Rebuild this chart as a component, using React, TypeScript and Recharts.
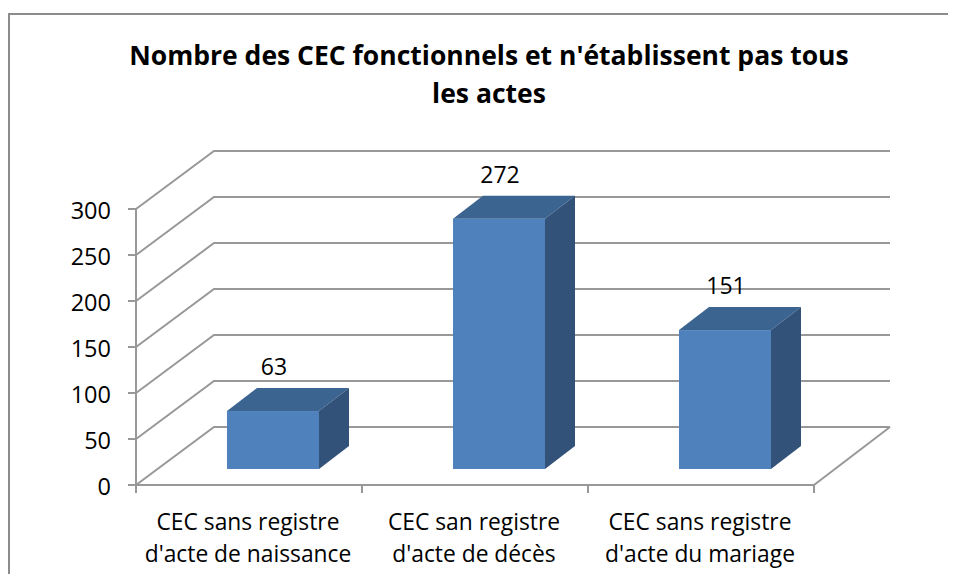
import { BarChart, Bar, XAxis, YAxis, CartesianGrid, LabelList } from 'recharts';

const categories = [
  "CEC sans registre\nd'acte de naissance",
  "CEC san registre\nd'acte de décès",
  "CEC sans registre\nd'acte du mariage",
];
const values = [63, 272, 151];
const yTicks = [0, 50, 100, 150, 200, 250, 300];
const titleLines = ["Nombre des CEC fonctionnels et n'établissent pas tous", "les actes"];

const data = categories.map((name, i) => ({ name, value: values[i] }));

const FONT = '"Open Sans", sans-serif';
const GRID = '#989898';
const BAND = 226;
const DEPTH_X = 78;
const DEPTH_Y = 58;

function Box(props: any) {
  const { x, y, width, height } = props;
  const fx = x + 24;
  const fy = y - 16;
  const dx = 30;
  const dy = 23;
  return (
    <g>
      <rect x={fx} y={fy} width={width} height={height} fill="#4F81BD" />
      <polygon
        points={`${fx},${fy} ${fx + dx},${fy - dy} ${fx + width + dx},${fy - dy} ${fx + width},${fy}`}
        fill="#3C6491"
      />
      <polygon
        points={`${fx + width},${fy} ${fx + width + dx},${fy - dy} ${fx + width + dx},${fy + height - dy} ${fx + width},${fy + height}`}
        fill="#32527A"
      />
    </g>
  );
}

function WallLine(props: any) {
  const { x1, x2, y1, index } = props;
  return (
    <g key={index}>
      <polyline
        points={`${x1},${y1} ${x1 + DEPTH_X},${y1 - DEPTH_Y} ${x2 + 76},${y1 - DEPTH_Y}`}
        fill="none"
        stroke={GRID}
        strokeWidth={2}
      />
      {y1 > 480 && (
        <line x1={x2} y1={y1} x2={x2 + 76} y2={y1 - DEPTH_Y} stroke={GRID} strokeWidth={2} />
      )}
    </g>
  );
}

function CategoryTick(props: any) {
  const { x, y, payload, index } = props;
  const lines = String(payload.value).split('\n');
  return (
    <g>
      <line x1={x + BAND / 2} y1={y - 8} x2={x + BAND / 2} y2={y} stroke={GRID} strokeWidth={2} />
      {index === 0 && (
        <line x1={x - BAND / 2} y1={y - 8} x2={x - BAND / 2} y2={y} stroke={GRID} strokeWidth={2} />
      )}
      {lines.map((line, i) => (
        <text key={i} x={x - 1} y={y + 37 + i * 32} textAnchor="middle" fontFamily={FONT} fontSize={22.8} fill="#000">
          {line}
        </text>
      ))}
    </g>
  );
}

export default function App() {
  return (
    <div style={{ position: 'relative', width: 956, height: 582, margin: -8, overflow: 'hidden', background: '#fff' }}>
      <div
        style={{
          position: 'absolute',
          left: 8,
          top: 13,
          width: 948,
          height: 569,
          borderTop: '2px solid #8c8c8c',
          borderLeft: '2px solid #8c8c8c',
          boxSizing: 'border-box',
        }}
      />
      <div
        style={{
          position: 'absolute',
          left: 0,
          top: 36,
          width: 978,
          textAlign: 'center',
          fontFamily: FONT,
          fontWeight: 700,
          fontSize: 26.5,
          lineHeight: '38px',
          color: '#000',
        }}
      >
        {titleLines.map((line) => (
          <div key={line}>{line}</div>
        ))}
      </div>
      <div style={{ position: 'absolute', left: 0, top: 0 }}>
        <BarChart
          width={956}
          height={582}
          data={data}
          barCategoryGap={67}
          margin={{ top: 209, right: 142, left: 76, bottom: 37 }}
        >
          <CartesianGrid vertical={false} horizontal={(p: any) => <WallLine {...p} />} />
          <XAxis
            dataKey="name"
            interval={0}
            height={60}
            tick={<CategoryTick />}
            tickLine={false}
            axisLine={{ stroke: GRID, strokeWidth: 2 }}
          />
          <YAxis
            width={60}
            domain={[0, 300]}
            ticks={yTicks}
            tickSize={8}
            tickMargin={17}
            tick={{ fontFamily: FONT, fontSize: 23.5, fill: '#000', dy: 2 }}
            tickLine={{ stroke: GRID, strokeWidth: 2 }}
            axisLine={{ stroke: GRID, strokeWidth: 2 }}
          />
          <Bar dataKey="value" shape={<Box />} isAnimationActive={false}>
            <LabelList
              dataKey="value"
              content={(p: any) => (
                <text
                  x={p.x + p.width / 2 + 25}
                  y={p.y - 52}
                  textAnchor="middle"
                  fontFamily={FONT}
                  fontSize={23}
                  fill="#000"
                >
                  {p.value}
                </text>
              )}
            />
          </Bar>
        </BarChart>
      </div>
    </div>
  );
}
